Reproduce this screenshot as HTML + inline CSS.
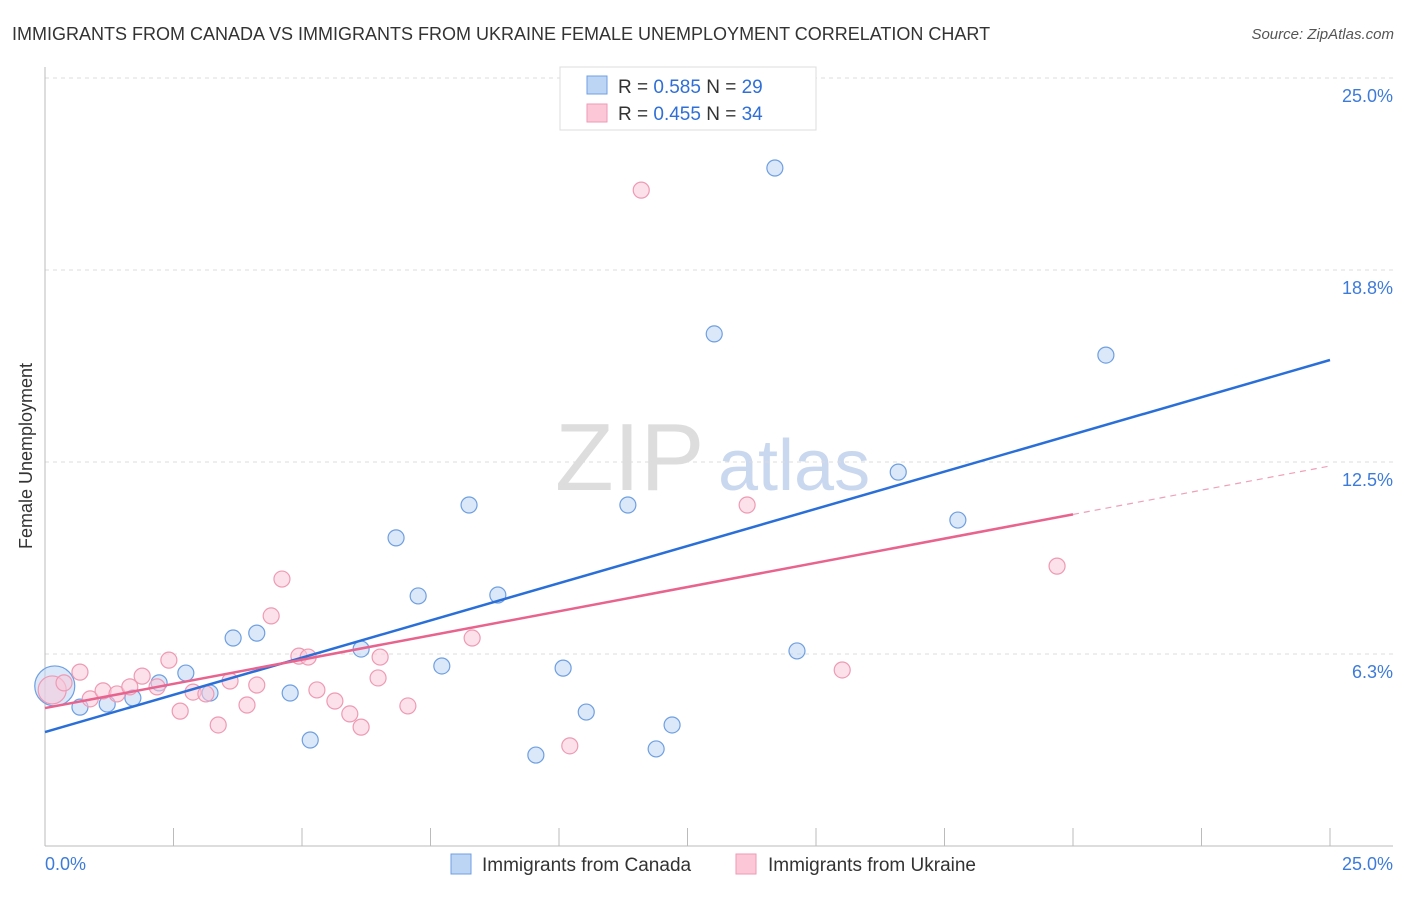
<!DOCTYPE html>
<html><head><meta charset="utf-8"><style>
body{margin:0;background:#fff;font-family:"Liberation Sans",sans-serif}
svg text{font-family:"Liberation Sans",sans-serif}
</style></head><body>
<svg id="c" width="1406" height="892">
<text x="12" y="40" font-size="18" fill="#333">IMMIGRANTS FROM CANADA VS IMMIGRANTS FROM UKRAINE FEMALE UNEMPLOYMENT CORRELATION CHART</text>
<text x="1394" y="39" font-size="15" fill="#555" text-anchor="end" font-style="italic">Source: ZipAtlas.com</text>
<text x="32" y="456" font-size="18" fill="#333" text-anchor="middle" transform="rotate(-90 32 456)">Female Unemployment</text>
<text x="555" y="490" font-size="96" fill="#ddd" font-family="Liberation Serif">ZIP</text>
<text x="718" y="490" font-size="72" fill="#c9d8ef">atlas</text>
<g id="grid"></g><g id="marks"></g>
<g>
<rect x="560" y="67" width="256" height="63" fill="#fff" stroke="#ddd"/>
<rect x="587" y="76" width="20" height="18" fill="#bcd5f5" stroke="#6f9fe0"/>
<rect x="587" y="104" width="20" height="18" fill="#fcc8d8" stroke="#ee9ab4"/>
<text x="618" y="93" font-size="19" fill="#333">R = <tspan fill="#2f6fd6">0.585</tspan>   N = <tspan fill="#2f6fd6">29</tspan></text>
<text x="618" y="120" font-size="19" fill="#333">R = <tspan fill="#2f6fd6">0.455</tspan>   N = <tspan fill="#2f6fd6">34</tspan></text>
</g>
<g>
<rect x="451" y="854" width="20" height="20" fill="#bcd5f5" stroke="#6f9fe0"/>
<text x="482" y="871" font-size="19" fill="#333">Immigrants from Canada</text>
<rect x="736" y="854" width="20" height="20" fill="#fcc8d8" stroke="#ee9ab4"/>
<text x="768" y="871" font-size="19" fill="#333">Immigrants from Ukraine</text>
</g>
</svg>
<script>
const yTicks=[6.25,12.5,18.75,25];
const yTickLabels=["6.3%","12.5%","18.8%","25.0%"];
const xTicks=[0,2.5,5,7.5,10,12.5,15,17.5,20,22.5,25];
const canadaX=[0.19,0.68,1.21,1.71,2.22,2.74,3.21,3.66,4.12,4.77,5.16,6.15,6.83,7.26,7.72,8.25,8.81,9.55,10.08,10.53,11.34,11.89,12.20,13.02,14.20,14.63,16.60,17.76,20.64];
const canadaY=[5.21,4.52,4.62,4.82,5.31,5.63,4.98,6.77,6.93,4.98,3.45,6.41,10.03,8.14,5.86,11.10,8.17,2.96,5.79,4.36,11.10,3.16,3.94,16.67,22.07,6.35,12.17,10.61,15.98];
const ukraineX=[0.14,0.37,0.68,0.88,1.13,1.40,1.65,1.89,2.18,2.41,2.63,2.88,3.13,3.37,3.60,3.93,4.12,4.40,4.61,4.94,5.12,5.29,5.64,5.93,6.15,6.48,6.52,7.06,8.31,10.21,11.60,13.66,15.51,19.69];
const ukraineY=[5.08,5.31,5.66,4.79,5.05,4.95,5.18,5.53,5.18,6.05,4.39,5.01,4.95,3.94,5.37,4.59,5.24,7.49,8.69,6.18,6.15,5.08,4.72,4.30,3.87,5.47,6.15,4.56,6.77,3.26,21.35,11.10,5.73,9.11];
const canadaTrend=[3.71,15.82];
const ukraineTrend=[4.49,12.37];
const X=v=>45+v*51.4, Y=v=>846-v*30.72;
const NS="http://www.w3.org/2000/svg";
const grid=document.getElementById('grid'), marks=document.getElementById('marks');
function mk(p,t,a){const e=document.createElementNS(NS,t);for(const k in a)e.setAttribute(k,a[k]);p.appendChild(e);return e;}
yTicks.forEach((t,i)=>{
 const l=mk(grid,'line',{x1:45,x2:1393,y1:Y(t),y2:Y(t),stroke:'#ddd','stroke-dasharray':'4,4'});
 
 
 const tx=mk(grid,'text',{x:1393,y:Y(t)+24,'font-size':18,fill:'#3d7bd9','text-anchor':'end'});
 tx.textContent=yTickLabels[i];
 
 
});
const ax=mk(grid,'line',{x1:45,x2:1393,y1:846,y2:846,stroke:'#bbb'});


const ay=mk(grid,'line',{x1:45,x2:45,y1:67,y2:846,stroke:'#bbb'});


xTicks.forEach(t=>{
 const l=mk(grid,'line',{x1:X(t),x2:X(t),y1:828,y2:846,stroke:'#bbb'});
 
 
});
const xl0=mk(grid,'text',{x:45,y:870,'font-size':18,fill:'#3d7bd9'});xl0.textContent='0.0%';


const xl1=mk(grid,'text',{x:1393,y:870,'font-size':18,fill:'#3d7bd9','text-anchor':'end'});xl1.textContent='25.0%';


function pts(xs,ys,fill,stroke,name,bigR){
 xs.forEach((x,i)=>{
  const c=mk(marks,'circle',{cx:X(x),cy:Y(ys[i]),r:i==0?bigR:8,fill:fill,'fill-opacity':0.55,stroke:stroke,'stroke-width':1.2});
  
  
 });
}
pts(canadaX,canadaY,'#bcd5f5','#6f9fe0','canada-point',20);
pts(ukraineX,ukraineY,'#fcc8d8','#ee9ab4','ukraine-point',14);
const tb=mk(marks,'line',{x1:X(0),y1:Y(canadaTrend[0]),x2:X(25),y2:Y(canadaTrend[1]),stroke:'#2a6fd8','stroke-width':2.5});


const ux=20, uy=ukraineTrend[0]+(ukraineTrend[1]-ukraineTrend[0])*ux/25;
const tp=mk(marks,'line',{x1:X(0),y1:Y(ukraineTrend[0]),x2:X(ux),y2:Y(uy),stroke:'#e8638e','stroke-width':2.5});


const td=mk(marks,'line',{x1:X(ux),y1:Y(uy),x2:X(25),y2:Y(ukraineTrend[1]),stroke:'#eea0b8','stroke-width':1.2,'stroke-dasharray':'6,5'});


</script>
</body></html>
